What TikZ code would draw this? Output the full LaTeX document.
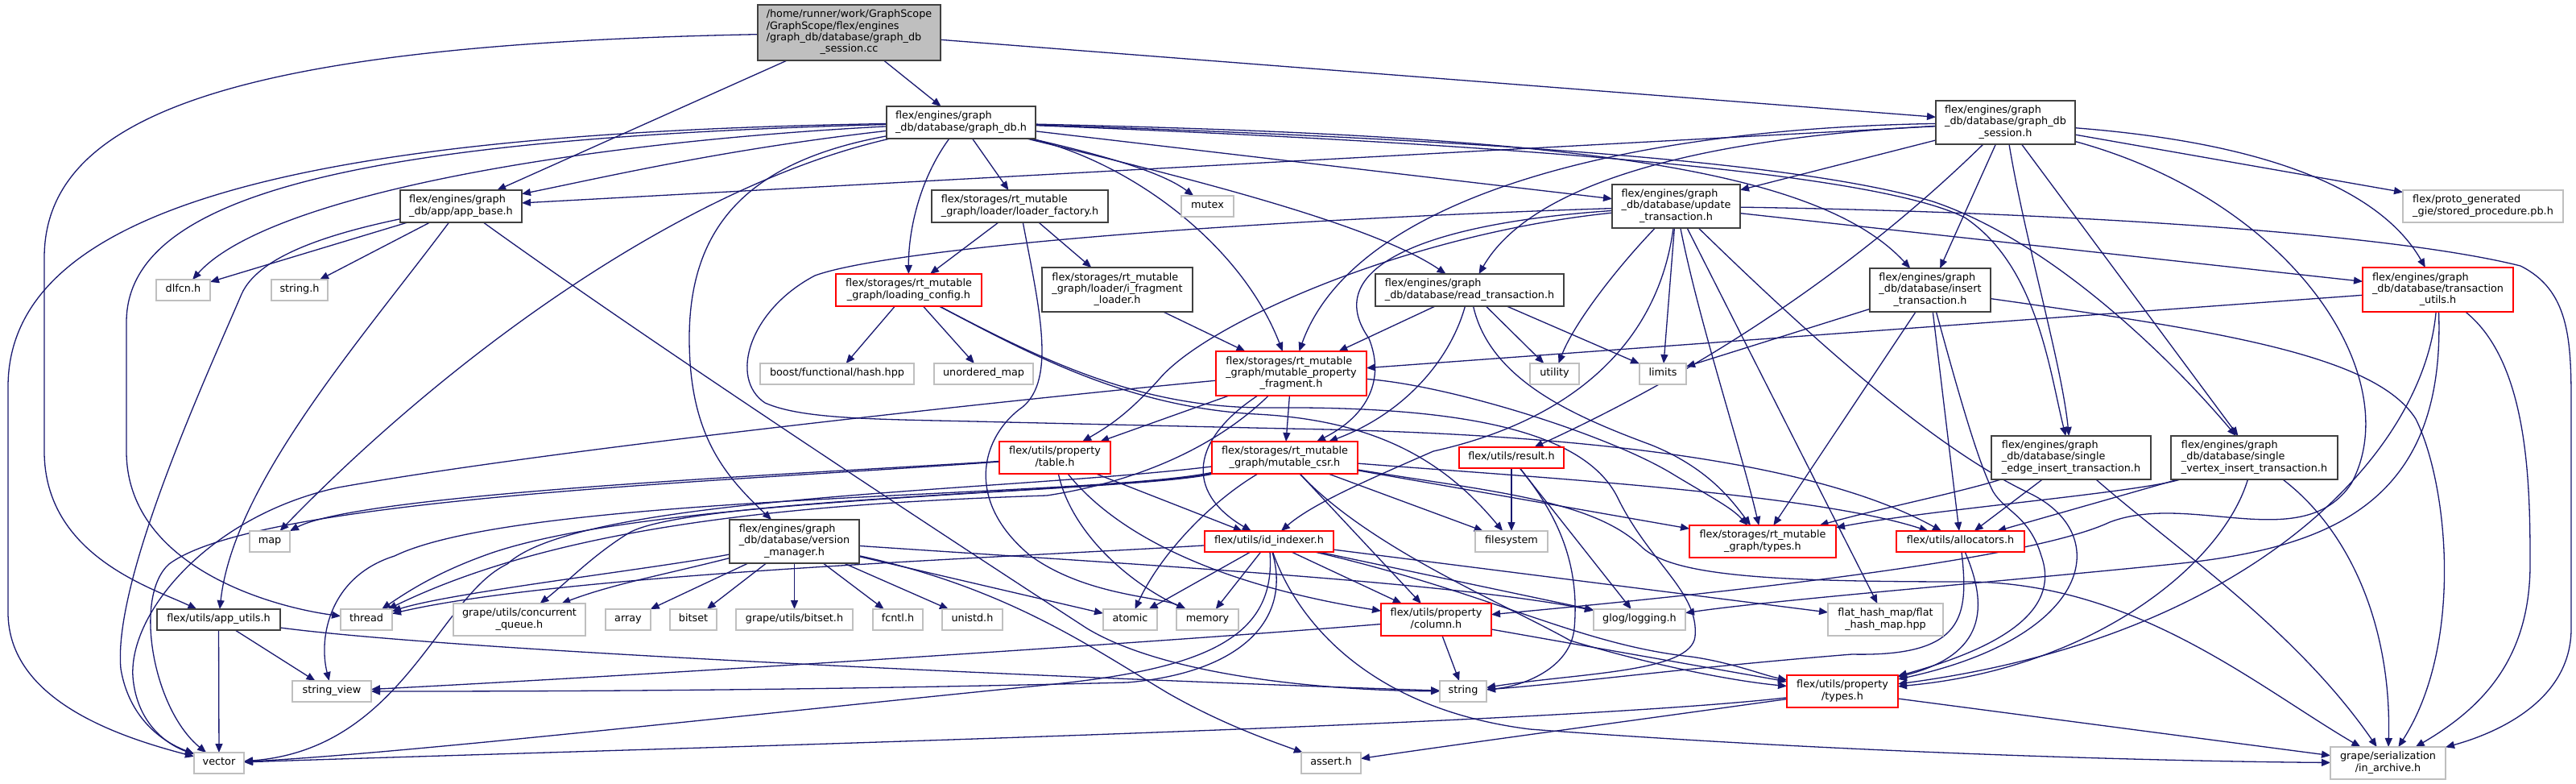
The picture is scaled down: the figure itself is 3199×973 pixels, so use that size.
\documentclass[tikz,border=0pt]{standalone}
\usepackage{fontspec}
\setmainfont{DejaVu Sans}
\usetikzlibrary{arrows.meta}
\definecolor{edgec}{HTML}{191970}
\definecolor{blkb}{HTML}{404040}
\definecolor{redb}{HTML}{FF0000}
\definecolor{grayb}{HTML}{BFBFBF}
\definecolor{rootf}{HTML}{BFBFBF}
\newcommand\nodefont{\fontsize{6.4pt}{7.15pt}\selectfont}
\newcommand\mlines[2]{\begin{tabular}{@{}l@{}}#1\\\multicolumn{1}{@{}c@{}}{#2}\end{tabular}}
\newcommand\sline[1]{\begin{tabular}{@{}c@{}}#1\end{tabular}}
\pgfdeclarelayer{bgfill}
\pgfdeclarelayer{edges}
\pgfsetlayers{bgfill,edges,main}
\tikzset{
 nbase/.style 2 args={rectangle, inner sep=0pt, outer sep=0pt, line width=0.8pt, fill=white, font=\nodefont, text=black, minimum width=#1*0.5pt, minimum height=#2*0.5pt},
 nb/.style 2 args={nbase={#1}{#2}, draw=blkb},
 nr/.style 2 args={nbase={#1}{#2}, draw=redb},
 ng/.style 2 args={nbase={#1}{#2}, draw=grayb},
 nroot/.style 2 args={nbase={#1}{#2}, draw=blkb, fill=rootf},
 edg/.style={draw=edgec, line width=0.65pt, -{Triangle[length=5.5pt,width=4.5pt]}},
}
\begin{document}
\begin{tikzpicture}[x=0.5pt,y=-0.5pt]
\useasboundingbox (0,0) rectangle (3199,973);
\begin{pgfonlayer}{bgfill}
\fill[white] (0,0) rectangle (3199,973);
\end{pgfonlayer}
% ---------- nodes ----------
\node[nroot={227}{69}] (root) at (1054.5,40.5) {\mlines{/home/runner/work/GraphScope\\/GraphScope/flex/engines\\/graph\_db/database/graph\_db}{\_session.cc}};
\node[nb={185}{40}] (gdb) at (1193.5,152) {\mlines{flex/engines/graph}{\_db/database/graph\_db.h}};
\node[nb={173}{54}] (sess) at (2490.5,152) {\mlines{flex/engines/graph\\\_db/database/graph\_db}{\_session.h}};
\node[nb={151}{40}] (appbase) at (572.5,256) {\mlines{flex/engines/graph}{\_db/app/app\_base.h}};
\node[ng={67}{26}] (dlfcn) at (227.5,360) {\sline{dlfcn.h}};
\node[ng={70}{26}] (stringh) at (372,360) {\sline{string.h}};
\node[nb={219}{40}] (lfac) at (1266.5,256) {\mlines{flex/storages/rt\_mutable}{\_graph/loader/loader\_factory.h}};
\node[ng={65}{26}] (mutex) at (1499.5,256) {\sline{mutex}};
\node[nr={181}{40}] (lconf) at (1128.5,360) {\mlines{flex/storages/rt\_mutable}{\_graph/loading\_config.h}};
\node[nb={187}{55}] (ifrag) at (1387.5,359.5) {\mlines{flex/storages/rt\_mutable\\\_graph/loader/i\_fragment}{\_loader.h}};
\node[ng={191}{26}] (boost) at (1039.5,464) {\sline{boost/functional/hash.hpp}};
\node[ng={123}{26}] (umap) at (1221.5,464) {\sline{unordered\_map}};
\node[nb={159}{54}] (update) at (2081.5,256) {\mlines{flex/engines/graph\\\_db/database/update}{\_transaction.h}};
\node[nb={234}{40}] (read) at (1825,360) {\mlines{flex/engines/graph}{\_db/database/read\_transaction.h}};
\node[nr={187}{55}] (mpf) at (1603.5,463.5) {\mlines{flex/storages/rt\_mutable\\\_graph/mutable\_property}{\_fragment.h}};
\node[ng={61}{26}] (utility) at (1930.5,464) {\sline{utility}};
\node[ng={58}{26}] (limits) at (2065,464) {\sline{limits}};
\node[nb={150}{54}] (insert) at (2397,360) {\mlines{flex/engines/graph\\\_db/database/insert}{\_transaction.h}};
\node[nr={187}{55}] (tutils) at (3027.5,359.5) {\mlines{flex/engines/graph\\\_db/database/transaction}{\_utils.h}};
\node[ng={199}{40}] (sproc) at (3083.5,256) {\mlines{flex/proto\_generated}{\_gie/stored\_procedure.pb.h}};
\node[nr={138}{40}] (table) at (1310,568) {\mlines{flex/utils/property}{/table.h}};
\node[nr={181}{40}] (csr) at (1595.5,568) {\mlines{flex/storages/rt\_mutable}{\_graph/mutable\_csr.h}};
\node[nr={130}{26}] (result) at (1877,568) {\sline{flex/utils/result.h}};
\node[nb={198}{54}] (sedge) at (2572,568) {\mlines{flex/engines/graph\\\_db/database/single}{\_edge\_insert\_transaction.h}};
\node[nb={207}{54}] (svert) at (2799.5,568) {\mlines{flex/engines/graph\\\_db/database/single}{\_vertex\_insert\_transaction.h}};
\node[nb={161}{54}] (vman) at (986.5,672) {\mlines{flex/engines/graph\\\_db/database/version}{\_manager.h}};
\node[nr={160}{26}] (idx) at (1576,672) {\sline{flex/utils/id\_indexer.h}};
\node[ng={90}{26}] (fs) at (1877,672) {\sline{filesystem}};
\node[nr={182}{40}] (rtypes) at (2189,672) {\mlines{flex/storages/rt\_mutable}{\_graph/types.h}};
\node[nr={159}{26}] (alloc) at (2434.5,672) {\sline{flex/utils/allocators.h}};
\node[ng={50}{26}] (map) at (335,672) {\sline{map}};
\node[ng={64}{26}] (thread) at (455,769) {\sline{thread}};
\node[ng={164}{40}] (cq) at (645,769) {\mlines{grape/utils/concurrent}{\_queue.h}};
\node[ng={56}{26}] (array) at (780,769) {\sline{array}};
\node[ng={58}{26}] (bitset) at (861,769) {\sline{bitset}};
\node[ng={145}{26}] (gbitset) at (986.5,769) {\sline{grape/utils/bitset.h}};
\node[ng={62}{26}] (fcntl) at (1115,769) {\sline{fcntl.h}};
\node[ng={75}{26}] (unistd) at (1207.5,769) {\sline{unistd.h}};
\node[ng={67}{26}] (atomic) at (1403.5,769) {\sline{atomic}};
\node[ng={77}{26}] (memory) at (1499.5,769) {\sline{memory}};
\node[nb={153}{26}] (autils) at (271.5,769) {\sline{flex/utils/app\_utils.h}};
\node[nr={137}{40}] (column) at (1783.5,769) {\mlines{flex/utils/property}{/column.h}};
\node[ng={114}{26}] (glog) at (2036,769) {\sline{glog/logging.h}};
\node[ng={143}{40}] (fhm) at (2341.5,769) {\mlines{flat\_hash\_map/flat}{\_hash\_map.hpp}};
\node[ng={98}{26}] (sview) at (412,858) {\sline{string\_view}};
\node[ng={58}{26}] (string) at (1817,858) {\sline{string}};
\node[nr={138}{40}] (ptypes) at (2288,858) {\mlines{flex/utils/property}{/types.h}};
\node[ng={62}{26}] (vector) at (272,947) {\sline{vector}};
\node[ng={74}{26}] (assert) at (1653,947) {\sline{assert.h}};
\node[ng={143}{40}] (inarch) at (2965.5,947) {\mlines{grape/serialization}{/in\_archive.h}};
% ---------- edges ----------
\begin{pgfonlayer}{edges}
% root
\draw[edg] (root) -- (gdb);
\draw[edg] (root) -- (sess);
\draw[edg] (root) -- (appbase);
\draw[edg] (root) .. controls (300,55) and (55,140) .. (55,320) -- (55,560) .. controls (55,690) and (190,730) .. (autils);
% graph_db.h
\draw[edg] (gdb) .. controls (900,185) and (750,220) .. (appbase);
\draw[edg] (gdb) .. controls (700,178) and (330,245) .. (dlfcn);
\draw[edg] (gdb) .. controls (400,165) and (10,250) .. (10,480) -- (10,760) .. controls (10,870) and (150,915) .. (vector);
\draw[edg] (gdb) .. controls (450,172) and (157,240) .. (157,400) -- (157,560) .. controls (157,700) and (330,752) .. (thread);
\draw[edg] (gdb) .. controls (850,230) and (560,440) .. (map);
\draw[edg] (gdb) .. controls (1380,195) and (1445,215) .. (mutex);
\draw[edg] (gdb) -- (lfac);
\draw[edg] (gdb) .. controls (1140,225) and (1128,290) .. (lconf);
\draw[edg] (gdb) .. controls (1400,200) and (1540,300) .. (mpf);
\draw[edg] (gdb) -- (update);
\draw[edg] (gdb) .. controls (1450,215) and (1700,275) .. (read);
\draw[edg] (gdb) .. controls (1900,168) and (2250,200) .. (insert);
\draw[edg] (gdb) .. controls (1900,180) and (2330,215) .. (2440,270) .. controls (2530,330) and (2545,460) .. (sedge);
\draw[edg] (gdb) .. controls (1900,175) and (2250,205) .. (2400,250) .. controls (2550,300) and (2700,450) .. (svert);
\draw[edg] (gdb) .. controls (930,200) and (856,280) .. (856,420) .. controls (856,540) and (900,590) .. (vman);
% graph_db_session.h
\draw[edg] (sess) -- (appbase);
\draw[edg] (sess) -- (update);
\draw[edg] (sess) .. controls (2100,172) and (1900,230) .. (read);
\draw[edg] (sess) .. controls (2000,160) and (1680,250) .. (mpf);
\draw[edg] (sess) -- (insert);
\draw[edg] (sess) .. controls (2515,300) and (2560,450) .. (sedge);
\draw[edg] (sess) -- (svert);
\draw[edg] (sess) -- (sproc);
\draw[edg] (sess) .. controls (2850,180) and (2965,250) .. (tutils);
\draw[edg] (sess) .. controls (2380,260) and (2200,420) .. (result);
\draw[edg] (sess) .. controls (2850,250) and (2990,470) .. (2920,600) .. controls (2860,690) and (2720,610) .. (2620,648) .. controls (2520,695) and (2150,735) .. (column);
% app_base.h
\draw[edg] (appbase) -- (dlfcn);
\draw[edg] (appbase) -- (stringh);
\draw[edg] (appbase) .. controls (800,420) and (1150,650) .. (1350,780) .. controls (1450,840) and (1650,857) .. (string);
\draw[edg] (appbase) .. controls (400,292) and (320,320) .. (300,365) .. controls (255,470) and (140,720) .. (150,830) .. controls (160,890) and (200,920) .. (vector);
\draw[edg] (appbase) .. controls (450,420) and (290,600) .. (autils);
% app_utils.h
\draw[edg] (autils) -- (vector);
\draw[edg] (autils) -- (sview);
\draw[edg] (autils) .. controls (600,812) and (1500,848) .. (string);
% loader_factory.h
\draw[edg] (lfac) -- (lconf);
\draw[edg] (lfac) -- (ifrag);
\draw[edg] (lfac) .. controls (1290,380) and (1312,470) .. (1270,505) .. controls (1220,540) and (1195,620) .. (1280,690) .. controls (1350,740) and (1440,740) .. (memory);
% i_fragment_loader.h
\draw[edg] (ifrag) -- (mpf);
% loading_config.h
\draw[edg] (lconf) -- (boost);
\draw[edg] (lconf) -- (umap);
\draw[edg] (lconf) .. controls (1280,440) and (1400,505) .. (1560,514) .. controls (1720,522) and (1800,580) .. (fs);
\draw[edg] (lconf) .. controls (1300,450) and (1420,508) .. (1580,506) .. controls (1850,504) and (1975,545) .. (2010,620) .. controls (2050,700) and (2110,735) .. (2105,790) .. controls (2100,835) and (1960,835) .. (string);
% update_transaction.h
\draw[edg] (update) .. controls (2010,330) and (1955,400) .. (utility);
\draw[edg] (update) -- (limits);
\draw[edg] (update) .. controls (2060,420) and (1960,520) .. (1780,560) .. controls (1700,595) and (1630,625) .. (idx);
\draw[edg] (update) .. controls (2110,400) and (2160,550) .. (rtypes);
\draw[edg] (update) -- (fhm);
\draw[edg] (update) .. controls (2250,420) and (2400,555) .. (2520,612) .. controls (2625,662) and (2600,790) .. (ptypes);
\draw[edg] (update) .. controls (1750,290) and (1500,400) .. (1440,470) .. controls (1400,515) and (1375,530) .. (table);
\draw[edg] (update) .. controls (1760,278) and (1640,335) .. (1700,420) .. controls (1720,470) and (1700,515) .. (csr);
\draw[edg] (update) .. controls (1500,275) and (1100,310) .. (1012,342) .. controls (930,385) and (905,470) .. (950,500) .. controls (1000,522) and (1100,520) .. (1250,524) -- (1600,532) .. controls (1950,538) and (2250,570) .. (alloc);
\draw[edg] (update) .. controls (2500,262) and (2950,285) .. (3130,330) .. controls (3190,360) and (3193,420) .. (3193,500) -- (3193,780) .. controls (3193,870) and (3100,910) .. (inarch);
\draw[edg] (update) -- (tutils);
% read_transaction.h
\draw[edg] (read) -- (mpf);
\draw[edg] (read) .. controls (1800,450) and (1740,515) .. (csr);
\draw[edg] (read) .. controls (1850,470) and (1950,515) .. (2050,552) .. controls (2120,580) and (2150,620) .. (rtypes);
\draw[edg] (read) -- (utility);
\draw[edg] (read) -- (limits);
% insert_transaction.h
\draw[edg] (insert) -- (limits);
\draw[edg] (insert) -- (rtypes);
\draw[edg] (insert) -- (alloc);
\draw[edg] (insert) .. controls (2430,480) and (2455,570) .. (2475,610) .. controls (2490,635) and (2520,640) .. (2535,690) .. controls (2560,760) and (2480,805) .. (ptypes);
\draw[edg] (insert) .. controls (2750,410) and (2950,440) .. (3000,520) .. controls (3040,600) and (3060,800) .. (inarch);
% transaction_utils.h
\draw[edg] (tutils) -- (mpf);
\draw[edg] (tutils) .. controls (3010,560) and (2800,790) .. (ptypes);
\draw[edg] (tutils) .. controls (3140,450) and (3142,600) .. (3142,700) .. controls (3142,820) and (3080,880) .. (inarch);
\draw[edg] (tutils) .. controls (3037,620) and (2900,680) .. (2700,700) .. controls (2450,725) and (2200,745) .. (glog);
% single_edge_insert_transaction.h
\draw[edg] (sedge) .. controls (2430,612) and (2330,632) .. (rtypes);
\draw[edg] (sedge) -- (alloc);
\draw[edg] (sedge) .. controls (2700,680) and (2850,780) .. (inarch);
% single_vertex_insert_transaction.h
\draw[edg] (svert) .. controls (2650,612) and (2400,632) .. (rtypes);
\draw[edg] (svert) -- (alloc);
\draw[edg] (svert) .. controls (2920,660) and (2970,780) .. (inarch);
\draw[edg] (svert) .. controls (2760,700) and (2600,830) .. (ptypes);
% mutable_property_fragment.h
\draw[edg] (mpf) -- (table);
\draw[edg] (mpf) .. controls (1300,492) and (700,555) .. (420,605) .. controls (260,640) and (160,760) .. (165,840) .. controls (170,900) and (210,925) .. (vector);
\draw[edg] (mpf) .. controls (1520,545) and (1430,595) .. (1300,615) .. controls (1000,625) and (700,650) .. (thread);
\draw[edg] (mpf) -- (csr);
\draw[edg] (mpf) .. controls (1480,545) and (1470,610) .. (idx);
\draw[edg] (mpf) .. controls (1800,478) and (2000,540) .. (2080,590) .. controls (2130,620) and (2150,630) .. (rtypes);
% table.h
\draw[edg] (table) .. controls (1000,588) and (450,612) .. (map);
\draw[edg] (table) .. controls (900,598) and (320,618) .. (210,700) .. controls (165,740) and (190,880) .. (vector);
\draw[edg] (table) .. controls (1330,660) and (1400,722) .. (memory);
\draw[edg] (table) .. controls (1400,680) and (1550,732) .. (column);
\draw[edg] (table) -- (idx);
% mutable_csr.h
\draw[edg] (csr) .. controls (1400,610) and (850,618) .. (780,662) .. controls (735,690) and (705,722) .. (cq);
\draw[edg] (csr) .. controls (1400,612) and (800,615) .. (600,690) .. controls (540,712) and (505,735) .. (thread);
\draw[edg] (csr) .. controls (1350,618) and (650,612) .. (490,690) .. controls (410,715) and (395,790) .. (sview);
\draw[edg] (csr) .. controls (1250,610) and (720,615) .. (630,700) .. controls (545,740) and (500,930) .. (vector);
\draw[edg] (csr) .. controls (1500,625) and (1440,690) .. (atomic);
\draw[edg] (csr) -- (fs);
\draw[edg] (csr) -- (rtypes);
\draw[edg] (csr) .. controls (1900,592) and (2250,612) .. (alloc);
\draw[edg] (csr) -- (column);
\draw[edg] (csr) .. controls (1700,680) and (1870,750) .. (1950,795) .. controls (2050,825) and (2150,845) .. (ptypes);
\draw[edg] (csr) .. controls (1850,610) and (1980,620) .. (2040,680) .. controls (2080,715) and (2200,722) .. (2440,722) .. controls (2650,722) and (2800,850) .. (inarch);
% id_indexer.h
\draw[edg] (idx) .. controls (1250,692) and (700,712) .. (thread);
\draw[edg] (idx) -- (atomic);
\draw[edg] (idx) -- (memory);
\draw[edg] (idx) .. controls (1585,790) and (1500,830) .. (1300,850) .. controls (900,890) and (500,935) .. (vector);
\draw[edg] (idx) .. controls (1605,770) and (1540,835) .. (1400,847) .. controls (1000,857) and (700,858) .. (sview);
\draw[edg] (idx) -- (column);
\draw[edg] (idx) -- (glog);
\draw[edg] (idx) -- (fhm);
\draw[edg] (idx) .. controls (1850,735) and (1960,800) .. (2100,815) .. controls (2150,822) and (2190,838) .. (ptypes);
\draw[edg] (idx) .. controls (1610,770) and (1700,880) .. (1900,905) .. controls (2300,935) and (2700,945) .. (inarch);
% column.h
\draw[edg] (column) -- (string);
\draw[edg] (column) -- (ptypes);
\draw[edg] (column) .. controls (1400,800) and (800,838) .. (sview);
% result.h
\draw[edg] (result) -- (fs);
\draw[edg] (result) -- (glog);
\draw[edg] (result) .. controls (1935,640) and (1962,700) .. (1955,780) .. controls (1950,830) and (1890,852) .. (string);
% allocators.h
\draw[edg] (alloc) .. controls (2445,765) and (2440,815) .. (2300,812) .. controls (2100,828) and (1950,848) .. (string);
\draw[edg] (alloc) .. controls (2475,765) and (2455,815) .. (ptypes);
% property/types.h
\draw[edg] (ptypes) .. controls (1900,902) and (700,932) .. (vector);
\draw[edg] (ptypes) .. controls (2000,898) and (1800,925) .. (assert);
\draw[edg] (ptypes) -- (inarch);
% version_manager.h
\draw[edg] (vman) .. controls (820,705) and (560,735) .. (thread);
\draw[edg] (vman) .. controls (830,712) and (760,725) .. (cq);
\draw[edg] (vman) -- (array);
\draw[edg] (vman) -- (bitset);
\draw[edg] (vman) -- (gbitset);
\draw[edg] (vman) -- (fcntl);
\draw[edg] (vman) -- (unistd);
\draw[edg] (vman) -- (atomic);
\draw[edg] (vman) .. controls (1400,700) and (1800,722) .. (glog);
\draw[edg] (vman) .. controls (1250,730) and (1350,800) .. (1450,860) .. controls (1520,900) and (1580,920) .. (assert);
\end{pgfonlayer}
\end{tikzpicture}
\end{document}
